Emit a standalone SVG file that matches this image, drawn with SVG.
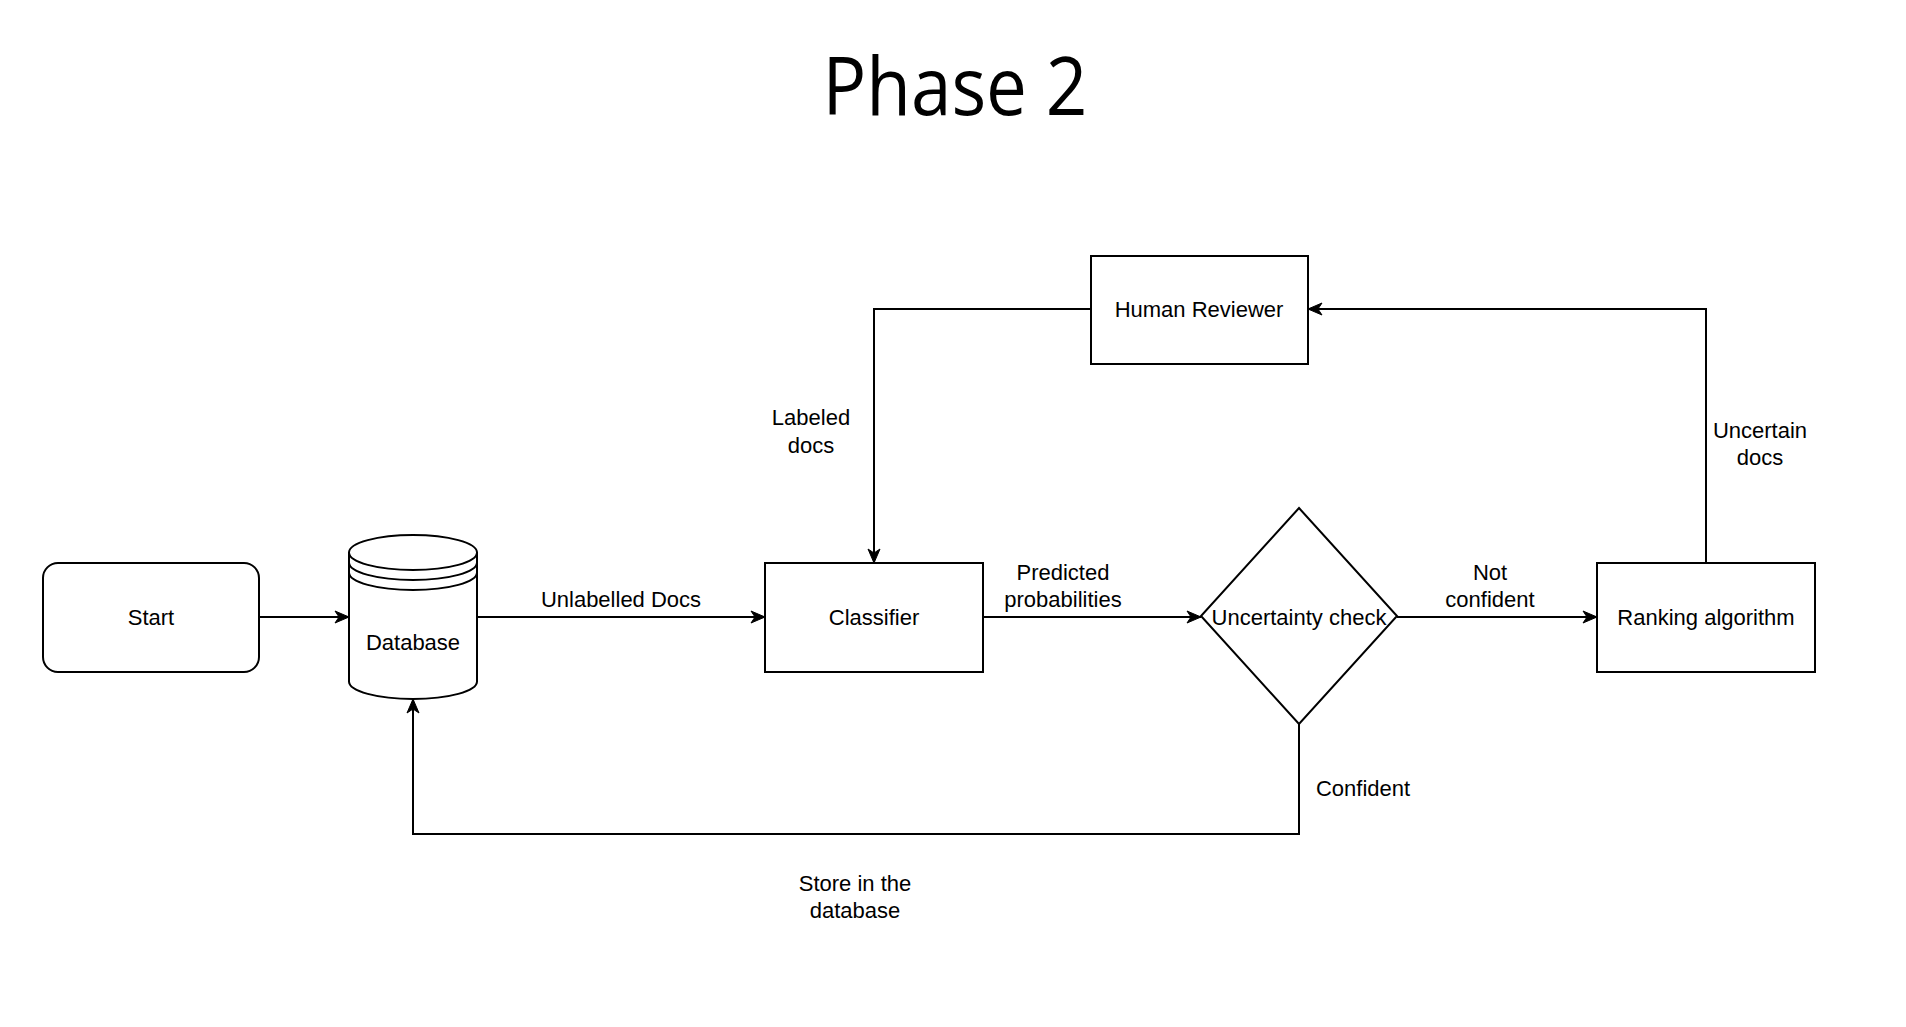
<svg xmlns="http://www.w3.org/2000/svg" width="1906" height="1027" viewBox="0 0 1906 1027">
<style>
  .shape { fill: #ffffff; stroke: #000000; stroke-width: 2; }
  .edge { fill: none; stroke: #000000; stroke-width: 2; }
  .lbl { font-family: "Liberation Sans", Arial, sans-serif; font-size: 22px; fill: #000000; text-anchor: middle; }
  .title { font-family: "Open Sans", "Liberation Sans", sans-serif; font-size: 80px; fill: #000000; text-anchor: middle; }
</style>
<defs>
  <marker id="arrow" markerUnits="userSpaceOnUse" markerWidth="16" markerHeight="14" refX="15" refY="7" orient="auto">
    <path d="M1,1 L15,7 L1,13 L5,7 Z" fill="#000000" stroke="#000000" stroke-width="1"/>
  </marker>
</defs>
<rect x="0" y="0" width="1906" height="1027" fill="#ffffff"/>
<text class="title" x="955" y="115" textLength="265" lengthAdjust="spacingAndGlyphs">Phase 2</text>

<g id="connectors">
  <path class="edge" d="M259,617 L349,617" marker-end="url(#arrow)"/>
  <path class="edge" d="M477,617 L765,617" marker-end="url(#arrow)"/>
  <path class="edge" d="M983,617 L1201,617" marker-end="url(#arrow)"/>
  <path class="edge" d="M1397,617 L1597,617" marker-end="url(#arrow)"/>
  <path class="edge" d="M1706,563 L1706,309 L1308,309" marker-end="url(#arrow)"/>
  <path class="edge" d="M1091,309 L874,309 L874,563" marker-end="url(#arrow)"/>
  <path class="edge" d="M1299,724 L1299,834 L413,834 L413,699" marker-end="url(#arrow)"/>
  <text class="lbl" x="621" y="607">Unlabelled Docs</text>
  <text class="lbl" x="1063" y="580">Predicted</text>
  <text class="lbl" x="1063" y="607">probabilities</text>
  <text class="lbl" x="1490" y="580">Not</text>
  <text class="lbl" x="1490" y="607">confident</text>
  <text class="lbl" x="811" y="425">Labeled</text>
  <text class="lbl" x="811" y="453">docs</text>
  <text class="lbl" x="1760" y="438">Uncertain</text>
  <text class="lbl" x="1760" y="465">docs</text>
  <text class="lbl" x="1363" y="796">Confident</text>
  <text class="lbl" x="855" y="891">Store in the</text>
  <text class="lbl" x="855" y="918">database</text>
</g>

<g id="node-start">
  <rect class="shape" x="43" y="563" width="216" height="109" rx="15" ry="15"/>
  <text class="lbl" x="151" y="625">Start</text>
</g>

<g id="node-database">
  <path class="shape" d="M349,552.5 A64,17.5 0 0 1 477,552.5 L477,681.5 A64,17.5 0 0 1 349,681.5 Z"/>
  <path class="edge" d="M349,552.5 A64,17.5 0 0 0 477,552.5"/>
  <path class="edge" d="M349,562.5 A64,17.5 0 0 0 477,562.5"/>
  <path class="edge" d="M349,572.5 A64,17.5 0 0 0 477,572.5"/>
  <text class="lbl" x="413" y="650">Database</text>
</g>

<g id="node-classifier">
  <rect class="shape" x="765" y="563" width="218" height="109"/>
  <text class="lbl" x="874" y="625">Classifier</text>
</g>

<g id="node-uncertainty">
  <polygon class="shape" points="1299,508 1397,616 1299,724 1201,616"/>
  <text class="lbl" x="1299" y="625">Uncertainty check</text>
</g>

<g id="node-ranking">
  <rect class="shape" x="1597" y="563" width="218" height="109"/>
  <text class="lbl" x="1706" y="625">Ranking algorithm</text>
</g>

<g id="node-human">
  <rect class="shape" x="1091" y="256" width="217" height="108"/>
  <text class="lbl" x="1199" y="317">Human Reviewer</text>
</g>
</svg>
